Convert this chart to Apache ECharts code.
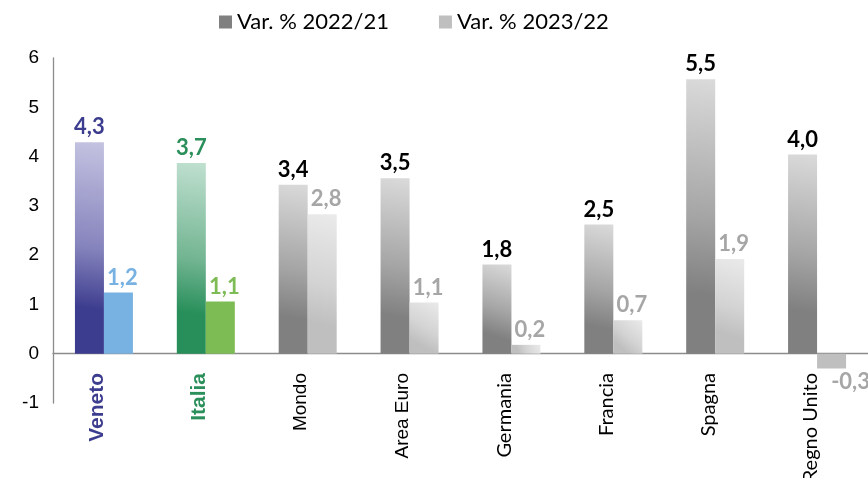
<!DOCTYPE html>
<html>
<head>
<meta charset="utf-8">
<script src="https://cdn.jsdelivr.net/npm/echarts@6/dist/echarts.min.js"></script>
<style>
  html, body { margin: 0; padding: 0; background: #fff; }
  #chart { width: 868px; height: 478px; }
</style>
</head>
<body>
<div id="chart"></div>
<script>
// categorie e valori
var categories = ["Veneto", "Italia", "Mondo", "Area Euro", "Germania", "Francia", "Spagna", "Regno Unito"];
var catStyle = ["ven", "ita", "ar", "ar", "ca", "ca", "ca", "ca"];
var values2022 = [4.29, 3.87, 3.43, 3.56, 1.81, 2.62, 5.57, 4.04];
var values2023 = [1.24, 1.06, 2.83, 1.04, 0.18, 0.68, 1.92, -0.3];
var labels2022 = ["4,3", "3,7", "3,4", "3,5", "1,8", "2,5", "5,5", "4,0"];
var labels2023 = ["1,2", "1,1", "2,8", "1,1", "0,2", "0,7", "1,9", "-0,3"];
var yTicks = [-1, 0, 1, 2, 3, 4, 5, 6];

function grad(top, mid, bottom) {
  return new echarts.graphic.LinearGradient(1, 0, 0, 1, [
    { offset: 0, color: top },
    { offset: 0.5, color: mid },
    { offset: 0.78, color: bottom },
    { offset: 1, color: bottom }
  ]);
}

var data2022 = values2022.map(function (v, i) {
  var item = { value: v, itemStyle: { color: grad("#DADADA", "#A5A5A5", "#808080") }, label: { color: "#000" } };
  if (i === 0) { item.itemStyle.color = grad("#C5C3E1", "#8583BC", "#3D3D8F"); item.label.color = "#3D3D8F"; }
  if (i === 1) { item.itemStyle.color = grad("#C0E0D0", "#73B592", "#288F5A"); item.label.color = "#2A8F5A"; }
  return item;
});

var data2023 = values2023.map(function (v, i) {
  var item = { value: v, itemStyle: { color: grad("#EAEAEA", "#D3D3D3", "#BFBFBF") }, label: { color: "#A6A6A6" } };
  if (i === 0) { item.itemStyle.color = "#78B2E2"; item.label.color = "#78B2E2"; }
  if (i === 1) { item.itemStyle.color = "#7DBB55"; item.label.color = "#7DBB55"; }
  if (v < 0) { item.itemStyle.color = "#BFBFBF"; item.label.position = "bottom"; item.label.offset = [19, -2]; }
  return item;
});

var chart = echarts.init(document.getElementById("chart"), null, { renderer: "canvas" });
chart.setOption({
  animation: false,
  legend: {
    top: 6,
    left: 214,
    itemWidth: 13,
    itemHeight: 13,
    itemGap: 50,
    icon: "rect",
    textStyle: { fontFamily: "Lato", fontSize: 22, color: "#000" },
    data: [
      { name: "Var. % 2022/21", itemStyle: { color: "#808080" } },
      { name: "Var. % 2023/22", itemStyle: { color: "#BFBFBF" } }
    ]
  },
  grid: { left: 53, right: 0, top: 58, bottom: 75, containLabel: false, outerBoundsMode: "none" },
  xAxis: {
    type: "category",
    data: categories,
    axisLine: { onZero: true, lineStyle: { color: "#8C8C8C", width: 1.3 } },
    axisTick: { show: false },
    axisLabel: {
      rotate: 90,
      margin: -30,
      interval: 0,
      padding: [0, 0, 14, 0],
      formatter: function (v, i) { return "{" + catStyle[i] + "|" + v + "}"; },
      rich: {
        ven: { fontFamily: "Liberation Sans", fontWeight: "bold", fontSize: 21, color: "#3D3D8F" },
        ita: { fontFamily: "Liberation Sans", fontWeight: "bold", fontSize: 21, color: "#2A8F5A" },
        ar: { fontFamily: "Liberation Sans", fontSize: 19, color: "#000" },
        ca: { fontFamily: "Lato", fontSize: 20, color: "#000" }
      }
    }
  },
  yAxis: {
    type: "value",
    min: yTicks[0],
    max: yTicks[yTicks.length - 1],
    interval: 1,
    splitLine: { show: false },
    axisLine: { show: true, lineStyle: { color: "#8C8C8C", width: 1.3 } },
    axisTick: { show: false },
    axisLabel: { margin: 14, fontFamily: "Liberation Sans", fontSize: 19, color: "#000" }
  },
  series: [
    {
      name: "Var. % 2022/21",
      type: "bar",
      barWidth: 29,
      barGap: "0%",
      data: data2022,
      label: {
        show: true,
        position: "top",
        distance: 4,
        fontFamily: "Lato",
        fontWeight: "bold",
        fontSize: 22,
        formatter: function (p) { return labels2022[p.dataIndex]; }
      }
    },
    {
      name: "Var. % 2023/22",
      type: "bar",
      barWidth: 29,
      data: data2023,
      label: {
        show: true,
        position: "top",
        distance: 4,
        offset: [4, 0],
        fontFamily: "Lato",
        fontWeight: "bold",
        fontSize: 22,
        formatter: function (p) { return labels2023[p.dataIndex]; }
      }
    }
  ]
});
</script>
</body>
</html>
